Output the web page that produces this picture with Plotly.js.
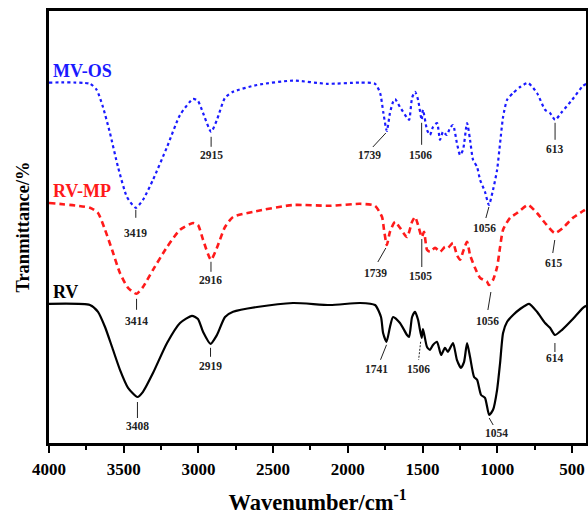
<!DOCTYPE html>
<html><head><meta charset="utf-8">
<script src="https://cdn.plot.ly/plotly-3.0.1.min.js"></script>
<style>html,body{margin:0;padding:0;background:#fff}#chart{width:588px;height:516px}</style>
</head><body><div id="chart"></div>
<script>
// Wavenumber (cm-1) and transmittance (arbitrary offset %) for each spectrum
const mvosW = [4000,3726,3681,3639,3592,3538,3478,3419,3371,3304,3210,3123,3036,3003,2969,2915,2876,2822,2768,2608,2367,2139,1918,1818,1784,1762,1739,1718,1697,1684,1651,1604,1590,1570,1550,1530,1506,1497,1470,1450,1430,1403,1383,1363,1337,1316,1296,1270,1249,1229,1202,1182,1162,1135,1115,1082,1056,1028,1001,981,961,934,894,847,794,734,680,647,613,566,499,426,405];
const mvosT = [90.1,89.8,88.3,84.0,77.5,69.0,61.5,58.8,60.8,65.8,74.0,82.0,86.0,85.5,82.5,77.8,80.8,86.3,87.8,89.5,90.6,89.8,90.1,89.8,87.5,82.5,78.0,82.5,85.3,86.0,84.0,81.3,80.8,86.3,87.8,85.8,80.8,83.3,78.3,77.0,79.0,80.0,75.8,77.8,77.0,78.8,79.5,75.0,72.0,73.3,80.0,75.8,70.8,69.0,65.8,62.8,59.5,63.3,68.3,75.0,81.5,85.8,87.5,89.0,90.0,87.5,83.3,82.5,80.8,82.8,85.8,89.3,89.8];

const rvmpW = [4000,3726,3672,3625,3578,3525,3471,3414,3371,3304,3210,3123,3036,3003,2969,2916,2876,2822,2768,2634,2367,2119,1918,1818,1771,1758,1739,1718,1684,1651,1604,1570,1550,1530,1505,1490,1470,1450,1416,1383,1350,1330,1296,1270,1249,1229,1202,1182,1149,1115,1068,1056,1028,1001,981,961,914,867,794,734,680,615,560,493,426,405];
const rvmpT = [60.0,58.8,57.5,53.3,48.3,42.5,38.8,37.3,39.0,43.3,49.0,53.3,55.0,54.5,50.8,45.8,48.8,54.0,56.5,57.8,59.5,59.3,59.8,59.3,56.5,53.3,49.5,52.8,55.3,53.8,51.5,55.3,56.5,54.5,51.5,52.8,48.3,47.8,48.8,47.8,49.0,48.8,50.0,47.0,45.8,47.8,50.3,47.0,43.8,41.3,40.3,39.5,40.8,44.0,49.0,53.3,56.3,57.5,59.5,57.5,55.0,52.5,53.8,56.3,58.0,58.5];

const rvW = [4000,3726,3672,3625,3578,3525,3471,3408,3371,3304,3210,3123,3043,3003,2969,2919,2876,2822,2768,2608,2367,2119,1918,1818,1778,1764,1741,1718,1697,1651,1604,1590,1570,1550,1530,1506,1497,1470,1450,1430,1403,1376,1350,1330,1296,1270,1243,1222,1202,1182,1155,1135,1108,1082,1054,1028,1001,981,961,934,894,847,787,734,680,647,614,566,499,426,405];
const rvT = [34.8,34.5,32.8,29.0,24.0,18.3,13.8,11.5,12.8,17.5,25.0,30.0,31.8,31.0,27.8,24.8,27.0,31.5,32.8,34.0,35.0,34.5,35.0,34.5,31.5,27.5,25.3,29.0,31.5,30.0,27.0,26.5,31.5,32.8,30.8,26.3,28.5,24.0,23.3,24.5,25.3,22.0,23.8,22.8,25.0,20.8,18.8,20.3,25.0,21.5,16.5,15.8,12.0,11.3,7.0,8.3,13.3,20.0,27.5,30.3,32.0,33.5,34.8,32.8,30.0,28.8,27.0,28.3,30.8,33.8,34.3];

const seriesNames = ['MV-OS','RV-MP','RV'];
const tickVals = [4000,3500,3000,2500,2000,1500,1000,500];

// Labelled peaks per series
const mvosPeaks = [3419,2915,1739,1506,1056,613];
const rvmpPeaks = [3414,2916,1739,1505,1056,615];
const rvPeaks = [3408,2919,1741,1506,1054,614];

// styling: pixel offsets for leader lines and labels [lx0,ly0,lx1,ly1,tx,ty] (screen px, y down)
const mvosOff = [[0,2,0,10,0,25],[0,5,0,15,0,23],[-1,2,-14,16,-17,24],[0,3,0,25,-1,35],[0,2,-3,13,-4,23],[0,3,0,20,0,29]];
const rvmpOff = [[0,5,0,16,0,27],[0,2,0,12,0,20],[-1,3,-9,17,-11,28],[0,2,0,30,-1,39],[2,7,-1,25,-1,36],[0,7,-2,20,-1,30]];
const rvOff = [[0,5,0,21,0,29],[0,4,0,13,0,22],[0,3,-6,18,-10,27],[-1,4,-3,22,-3,31],[0,3,4,10,7,18],[0,8,0,17,0,23]];
const rvDashLead = [false,false,false,true,false,false];

const data = [
  {x: mvosW, y: mvosT, name: seriesNames[0], mode:'lines', line:{color:'#1a1aff', width:2.2, dash:'dot', shape:'spline', smoothing:0.6}},
  {x: rvmpW, y: rvmpT, name: seriesNames[1], mode:'lines', line:{color:'#ff1a1a', width:2.6, dash:'6px,4px', shape:'spline', smoothing:0.6}},
  {x: rvW, y: rvT, name: seriesNames[2], mode:'lines', line:{color:'#000000', width:2.2, shape:'spline', smoothing:0.6}}
];

const serif = 'Liberation Serif, Times New Roman, serif';
const shapes = [];
const annotations = [];
function addPeaks(peaks, W, T, off, dashes){
  peaks.forEach((p,i)=>{
    const t = T[W.indexOf(p)];
    const o = off[i];
    shapes.push({type:'line', xref:'x', yref:'y', xsizemode:'pixel', ysizemode:'pixel', xanchor:p, yanchor:t,
      x0:o[0], x1:o[2], y0:-o[1], y1:-o[3], line:{color:'#222', width:1, dash: (dashes && dashes[i]) ? '2px,1.5px' : 'solid'}});
    annotations.push({x:p, y:t, xref:'x', yref:'y', text:'<b>'+p+'</b>', showarrow:false, xshift:o[4], yshift:-o[5],
      font:{family:serif, size:11.5, color:'#222'}});
  });
}
addPeaks(mvosPeaks, mvosW, mvosT, mvosOff);
addPeaks(rvmpPeaks, rvmpW, rvmpT, rvmpOff);
addPeaks(rvPeaks, rvW, rvT, rvOff, rvDashLead);

// Series name labels
const nameColors = ['#1a1aff','#ff1a1a','#000'];
const nameT = [mvosT[0], rvmpT[0], rvT[0]];
seriesNames.forEach((n,i)=>{
  annotations.push({x:0, xref:'paper', y:nameT[i], yref:'y', xanchor:'left', yanchor:'bottom', xshift:2, yshift:0,
    text:'<b>'+n+'</b>', showarrow:false, font:{family:serif, size:18, color:nameColors[i]}});
});

const layout = {
  width:588, height:516,
  margin:{l:49, r:2, t:11, b:73},
  paper_bgcolor:'#fff', plot_bgcolor:'#fff',
  showlegend:false,
  font:{family:serif, color:'#000'},
  xaxis:{range:[4000,406], tickvals:tickVals, ticktext:tickVals.map(v=>'<b>'+v+'</b>'), ticks:'outside', ticklen:7, tickwidth:2, tickcolor:'#000',
    ticklabelstandoff:2,
    minor:{tickvals:[3750,3250,2750,2250,1750,1250,750], ticks:'outside', ticklen:4, tickwidth:2, tickcolor:'#000'},
    showline:true, linewidth:3, linecolor:'#000', mirror:true, showgrid:false, zeroline:false,
    tickfont:{size:17, family:serif},
    title:{text:'<b>Wavenumber/cm<sup>-1</sup></b>', font:{size:22.5, family:serif}, standoff:16}},
  yaxis:{range:[0,108], showticklabels:false, ticks:'', showline:true, linewidth:3, linecolor:'#000', mirror:true, showgrid:false, zeroline:false,
    title:{text:'<b>Tranmittance/%</b>', font:{size:18.5, family:serif}, standoff:12}},
  shapes:shapes, annotations:annotations
};
Plotly.newPlot('chart', data, layout, {staticPlot:true});
</script></body></html>
